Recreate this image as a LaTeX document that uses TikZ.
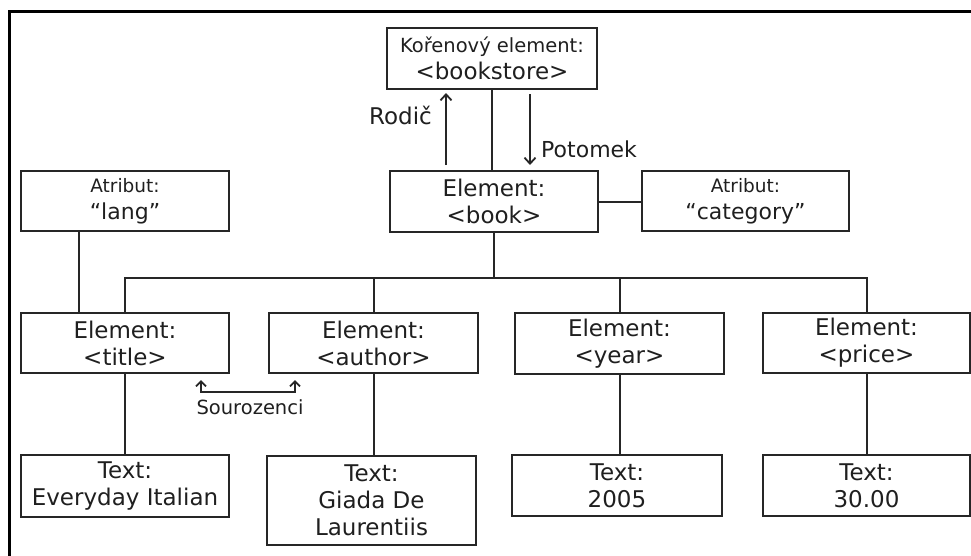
\documentclass[tikz,border=0pt]{standalone}
\usepackage{fontspec}
\setmainfont{DejaVu Sans}
\usetikzlibrary{arrows.meta,calc}

\begin{document}
\begin{tikzpicture}[x=1pt,y=-1pt,
  ink/.style={draw=black!85, line width=2pt},
  box/.style={ink, inner sep=0pt, align=center, text=black!88,
    font=\fontsize{23}{27}\selectfont},
  attrbox/.style={box, font=\fontsize{22}{27}\selectfont},
  lbl/.style={inner sep=0pt, text=black!88, font=\fontsize{23}{27}\selectfont},
  tip/.style={-{Straight Barb[length=6pt,width=11pt]}},
  bitip/.style={{Straight Barb[length=5pt,width=10pt]}-{Straight Barb[length=5pt,width=10pt]}}
]
\useasboundingbox (0,0) rectangle (971,555);

% frame along the left and top edges
\draw[line width=3pt, black] (9.5,556) -- (9.5,11.3) -- (972,11.3);

% root and its child
\node[box, minimum width=210, minimum height=61] (root) at (492,58.5)
  {{\fontsize{19.5}{26}\selectfont Kořenový element:}\\<bookstore>};
\node[box, minimum width=208, minimum height=61] (book) at (494,201.5)
  {Element:\\<book>};

% attributes
\node[attrbox, minimum width=208, minimum height=60] (lang) at (125,201)
  {{\fontsize{18.5}{26}\selectfont Atribut:\hspace{20pt}}\\“lang”};
\node[attrbox, minimum width=207, minimum height=60] (cat) at (745.5,201)
  {{\fontsize{18.5}{26}\selectfont Atribut:\hspace{20pt}}\\“category”};

% child elements
\node[box, minimum width=208, minimum height=60] (title) at (125,343)
  {Element:\\<title>};
\node[box, minimum width=209, minimum height=60] (author) at (373.5,343)
  {Element:\\<author>};
\node[box, minimum width=209, minimum height=61] (year) at (619.5,343.5)
  {Element:\\<year>};
\node[box, minimum width=207, minimum height=60] (price) at (866.5,343)
  {Element:\\<price>};

% text nodes
\node[box, minimum width=208, minimum height=62] (t1) at (125,486)
  {Text:\\Everyday Italian};
\node[box, minimum width=209, minimum height=89] (t2) at (371.5,500.5)
  {Text:\\Giada De\\Laurentiis};
\node[box, minimum width=210, minimum height=61] (t3) at (617,485.5)
  {Text:\\2005};
\node[box, minimum width=207, minimum height=61] (t4) at (866.5,485.5)
  {Text:\\30.00};

% tree connectors
\draw[ink] (root.south) -- (root.south |- book.north);
\draw[ink] (book.east) -- (book.east -| cat.west);
\draw[ink] (book.south) -- ++(0,45) coordinate (bus);
\draw[ink] (title.north) |- (bus) -| (price.north);
\draw[ink] (author.north) -- (author.north |- bus);
\draw[ink] (year.north) -- (year.north |- bus);
\draw[ink] ([xshift=-46pt]lang.south) -- ([xshift=-46pt]lang.south |- title.north);
\draw[ink] (title.south) -- (t1.north);
\draw[ink] (author.south) -- (author.south |- t2.north);
\draw[ink] (year.south) -- (year.south |- t3.north);
\draw[ink] (price.south) -- (t4.north);

% parent / child arrows
\coordinate (rodA) at (446,165);
\coordinate (rodB) at (446,93);
\coordinate (potA) at (530,94);
\coordinate (potB) at (530,165);
\draw[ink, line width=1.8pt, tip] (rodA) -- (rodB);
\draw[ink, line width=1.8pt, tip] (potA) -- (potB);
\node[lbl, anchor=east] (rodic) at (432,115) {Rodič};
\node[lbl, anchor=west, font=\fontsize{22}{27}\selectfont] (potomek) at (541,149) {Potomek};

% siblings
\coordinate (sibA) at (201,380);
\coordinate (sibB) at (295,380);
\draw[ink, line width=1.8pt, bitip] (sibA) -- ++(0,12) -| (sibB);
\node[lbl, font=\fontsize{19.5}{26}\selectfont] (sib) at (250,407) {Sourozenci};
\end{tikzpicture}
\end{document}
